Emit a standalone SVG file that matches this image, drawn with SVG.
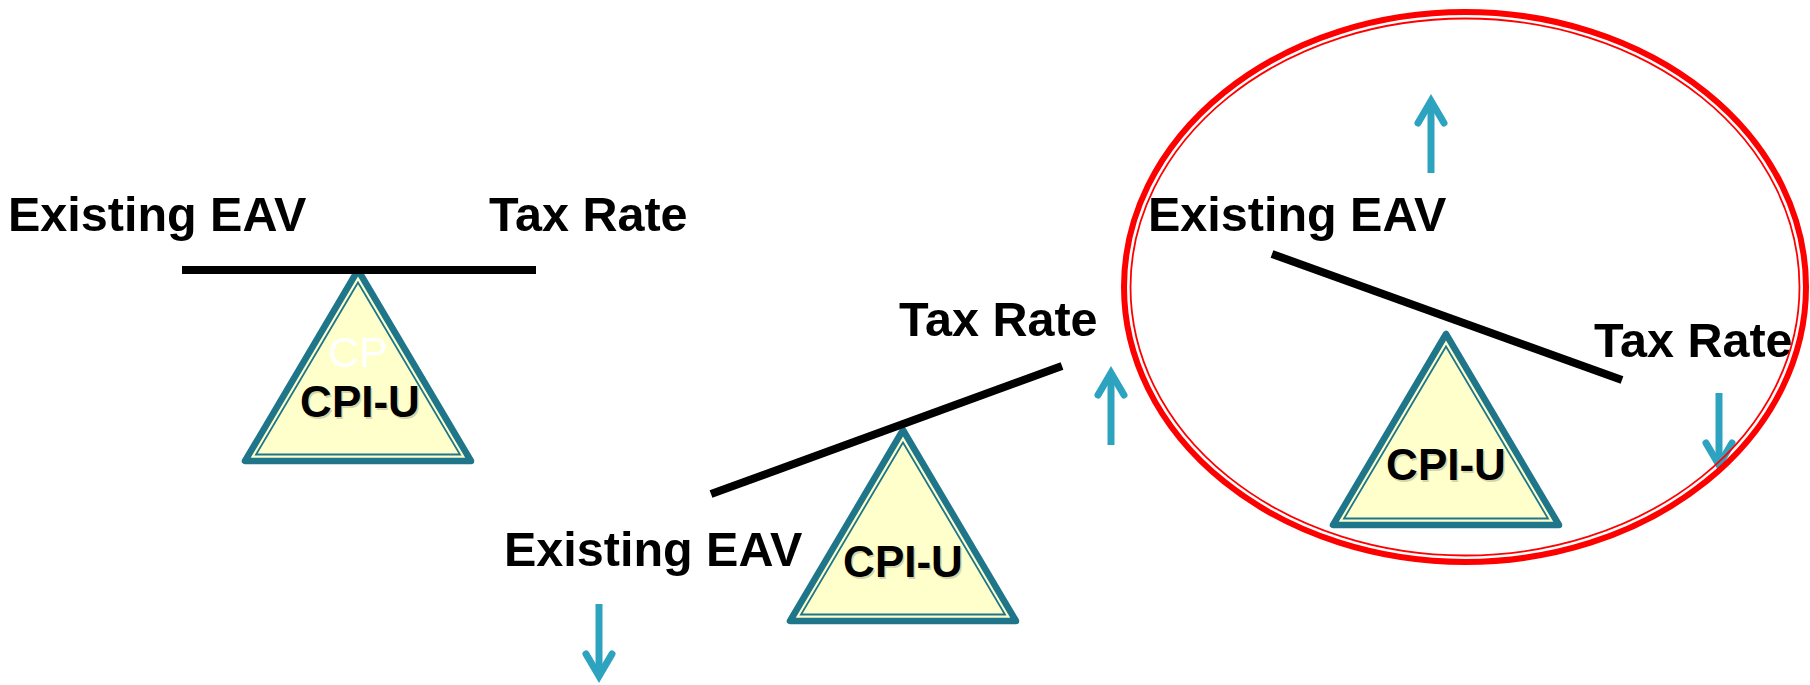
<svg xmlns="http://www.w3.org/2000/svg" xmlns:xlink="http://www.w3.org/1999/xlink" width="1810" height="685" viewBox="0 0 1810 685">
<style>
  .lbl { font-family: "Liberation Sans", Arial, sans-serif; font-weight: bold; font-size: 48.5px; fill: #000; }
  .cpi { font-family: "Liberation Sans", Arial, sans-serif; font-weight: bold; font-size: 44px; fill: #000; text-anchor: middle; }
  .cpish { font-family: "Liberation Sans", Arial, sans-serif; font-weight: bold; font-size: 44px; fill: #8a8a6a; opacity: 0.35; text-anchor: middle; }
  .ghost { font-family: "Liberation Sans", Arial, sans-serif; font-size: 43px; fill: #fff; text-anchor: middle; }
  .tri-out { fill: #FFFFCC; stroke: #1F768A; stroke-width: 6.5; stroke-linejoin: round; }
  .tri-in { fill: none; stroke: #1F768A; stroke-width: 1.8; stroke-linejoin: miter; }
  .bar { stroke: #000; stroke-width: 8; stroke-linecap: butt; fill: none; }
  .ar-shaft { stroke: #2EA3C0; stroke-width: 7; stroke-linecap: butt; fill: none; }
  .ar-head { stroke: #2EA3C0; stroke-width: 7; stroke-linecap: round; stroke-linejoin: miter; fill: none; }
  .ring-out { fill: none; stroke: #FF0000; stroke-width: 6; }
  .ring-in { fill: none; stroke: #FF0000; stroke-width: 1.8; }
</style>
<defs>
  <g id="tri">
    <path class="tri-out" d="M0,0 L-113,191 L113,191 Z"/>
    <path class="tri-in" d="M0,12.5 L-102,184.5 L102,184.5 Z"/>
  </g>
  <g id="arrowUp">
    <line class="ar-shaft" x1="0" y1="8" x2="0" y2="79"/>
    <polyline class="ar-head" points="-13,29 0,7 13,29"/>
  </g>
</defs>

<g id="balance-level">
  <text class="lbl" x="8" y="231">Existing EAV</text>
  <text class="lbl" x="489" y="231">Tax Rate</text>
  <g id="fulcrum-1">
    <use xlink:href="#tri" href="#tri" transform="translate(358,270)"/>
    <text class="ghost" x="358" y="367">CP</text>
    <text class="cpish" x="361.5" y="418.5">CPI-U</text>
    <text class="cpi" x="360" y="417">CPI-U</text>
  </g>
  <line class="bar" x1="182" y1="270" x2="536" y2="270"/>
</g>

<g id="balance-tilt-left">
  <text class="lbl" x="899" y="336">Tax Rate</text>
  <text class="lbl" x="504" y="566">Existing EAV</text>
  <g id="fulcrum-2">
    <use xlink:href="#tri" href="#tri" transform="translate(903,430)"/>
    <text class="cpish" x="904.5" y="578.5">CPI-U</text>
    <text class="cpi" x="903" y="577">CPI-U</text>
  </g>
  <line class="bar" x1="711" y1="494" x2="1062" y2="366"/>
</g>

<g id="balance-tilt-right">
  <text class="lbl" x="1148" y="231">Existing EAV</text>
  <text class="lbl" x="1594" y="357">Tax Rate</text>
  <g id="fulcrum-3">
    <use xlink:href="#tri" href="#tri" transform="translate(1446,334)"/>
    <text class="cpish" x="1447.5" y="481.5">CPI-U</text>
    <text class="cpi" x="1446" y="480">CPI-U</text>
  </g>
  <line class="bar" x1="1272" y1="254" x2="1622" y2="380"/>
</g>

<g id="arrows">
  <use xlink:href="#arrowUp" href="#arrowUp" transform="translate(1431,94)"/>
  <use xlink:href="#arrowUp" href="#arrowUp" transform="translate(1111,366)"/>
  <use xlink:href="#arrowUp" href="#arrowUp" transform="translate(599,683) scale(1,-1)"/>
  <use xlink:href="#arrowUp" href="#arrowUp" transform="translate(1719,472) scale(1,-1)"/>
</g>

<g id="highlight-ring">
  <ellipse class="ring-out" cx="1465" cy="287" rx="341" ry="275"/>
  <ellipse class="ring-in" cx="1465" cy="287" rx="334.5" ry="268.5"/>
</g>
</svg>
